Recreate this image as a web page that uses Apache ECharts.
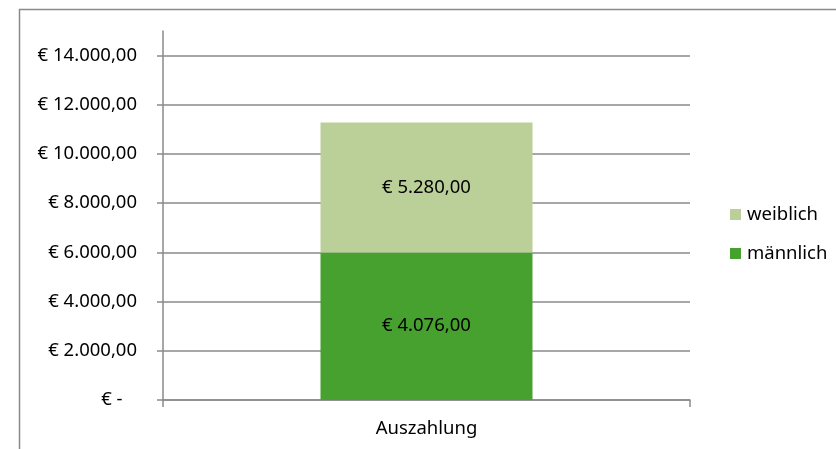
<!DOCTYPE html>
<html>
<head>
<meta charset="utf-8">
<script src="https://cdn.jsdelivr.net/npm/echarts@6/dist/echarts.min.js"></script>
<style>html,body{margin:0;padding:0;background:#fff}#c{width:836px;height:449px}</style>
</head>
<body>
<div id="c"></div>
<script>
const categories = ['Auszahlung'];
const seriesNames = ['männlich', 'weiblich'];
const maleValues = [6000];
const femaleValues = [5280];
const maleLabels = ['€ 4.076,00'];
const femaleLabels = ['€ 5.280,00'];
const yTicks = [0, 2000, 4000, 6000, 8000, 10000, 12000, 14000];
const yTickLabels = ['€ -   ', '€ 2.000,00', '€ 4.000,00', '€ 6.000,00', '€ 8.000,00', '€ 10.000,00', '€ 12.000,00', '€ 14.000,00'];

const FONT = 'Noto Sans';
const FS = 18.5;
const chart = echarts.init(document.getElementById('c'), null, {renderer: 'canvas'});
chart.setOption({
  animation: false,
  backgroundColor: '#fff',
  textStyle: {fontFamily: FONT},
  graphic: [{
    type: 'rect', left: 17, top: 7, shape: {x: 0, y: 0, width: 900, height: 500},
    style: {fill: 'none', stroke: '#8a8a8a', lineWidth: 1.5}, silent: true, z: -1
  }],
  grid: {left: 163, right: 146, top: 31, bottom: 49},
  legend: {
    orient: 'vertical', left: 725, top: 200,
    data: ['weiblich', 'männlich'],
    itemWidth: 11, itemHeight: 11, itemGap: 20,
    icon: 'rect',
    textStyle: {fontFamily: FONT, fontSize: FS, color: '#000', padding: [0, 0, 0, 1]}
  },
  xAxis: {
    type: 'category', data: categories,
    axisLine: {lineStyle: {color: '#8a8a8a', width: 1.5}},
    axisTick: {show: true, length: 7, lineStyle: {color: '#8a8a8a', width: 1.5}},
    axisLabel: {fontFamily: FONT, fontSize: FS, color: '#000', margin: 19}
  },
  yAxis: {
    type: 'value', min: 0, max: 15000, interval: 2000,
    axisLine: {show: true, lineStyle: {color: '#8a8a8a', width: 1.5}},
    axisTick: {show: true, length: 6, customValues: yTicks, lineStyle: {color: '#8a8a8a', width: 1.5}},
    axisLabel: {
      fontFamily: FONT, fontSize: FS, color: '#000', margin: 26,
      customValues: yTicks,
      formatter: function (v) { const i = yTicks.indexOf(v); return i >= 0 ? yTickLabels[i] : ''; }
    },
    splitLine: {show: true, lineStyle: {color: '#8a8a8a', width: 1.5}}
  },
  series: [
    {
      name: 'männlich', type: 'bar', stack: 'total', data: maleValues, barWidth: 212,
      itemStyle: {color: '#46a12e'},
      label: {show: true, position: 'inside', fontFamily: FONT, fontSize: FS, color: '#000',
        formatter: p => maleLabels[p.dataIndex]}
    },
    {
      name: 'weiblich', type: 'bar', stack: 'total', data: femaleValues, barWidth: 212,
      itemStyle: {color: '#bbcf99'},
      label: {show: true, position: 'inside', fontFamily: FONT, fontSize: FS, color: '#000',
        formatter: p => femaleLabels[p.dataIndex]}
    }
  ]
});
</script>
</body>
</html>
